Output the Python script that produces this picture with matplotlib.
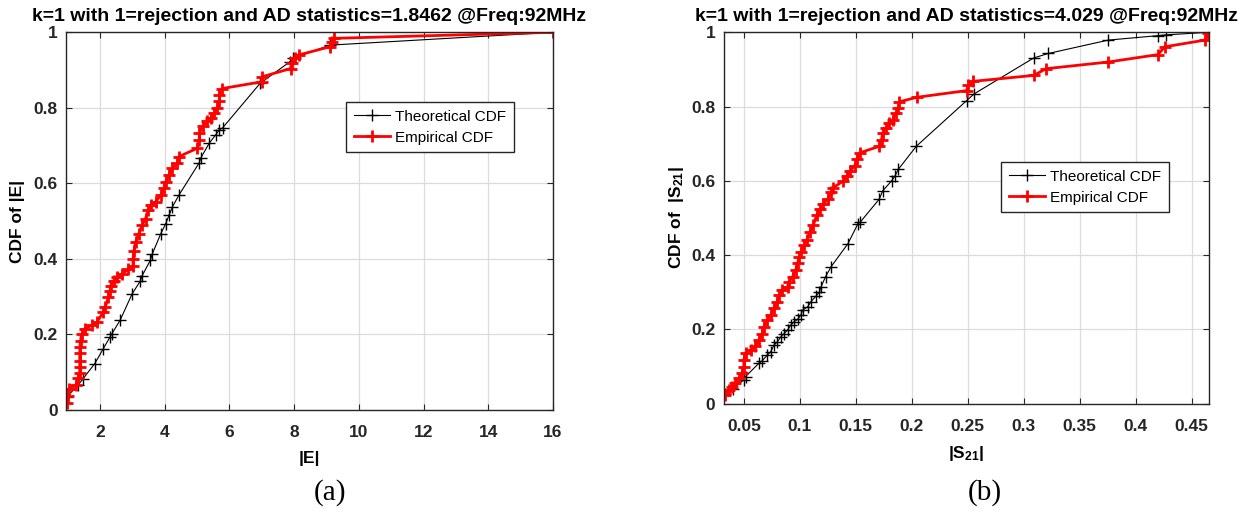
import matplotlib
matplotlib.use("Agg")
import matplotlib.pyplot as plt

plt.rcParams['font.family'] = ['Liberation Sans', 'DejaVu Sans']
plt.rcParams['mathtext.fontset'] = 'custom'
plt.rcParams['mathtext.rm'] = 'Liberation Sans:bold'
plt.rcParams['mathtext.bf'] = 'Liberation Sans:bold'
plt.rcParams['mathtext.default'] = 'rm'

# panel (a): |E|
e_emp_x = [0.97, 1.0, 1.03, 1.27, 1.32, 1.375, 1.375, 1.375, 1.375, 1.38, 1.4, 1.43, 1.53, 1.74, 1.9,
           2.1, 2.16, 2.26, 2.31, 2.33, 2.42, 2.52, 2.68, 2.88, 3.02, 3.02, 3.05, 3.1, 3.2, 3.3,
           3.41, 3.49, 3.57, 3.72, 3.88, 3.98, 4.03, 4.13, 4.24, 4.39, 4.44, 5.01, 5.07, 5.07, 5.17,
           5.32, 5.43, 5.53, 5.63, 5.69, 5.69, 5.77, 7.0, 7.0, 7.89, 7.94, 8.04, 8.14, 9.12, 9.17,
           9.22, 16.0]
e_emp_y = [0.018, 0.037, 0.055, 0.066, 0.084, 0.097, 0.114, 0.13, 0.15, 0.167, 0.184, 0.2, 0.215, 0.224, 0.232,
           0.259, 0.272, 0.298, 0.316, 0.329, 0.342, 0.351, 0.36, 0.373, 0.382, 0.399, 0.422, 0.444, 0.467, 0.489,
           0.507, 0.529, 0.542, 0.551, 0.569, 0.587, 0.604, 0.622, 0.64, 0.653, 0.671, 0.693, 0.716, 0.733, 0.751,
           0.764, 0.773, 0.787, 0.8, 0.818, 0.835, 0.851, 0.869, 0.882, 0.904, 0.918, 0.931, 0.94, 0.962, 0.975,
           0.984, 1.0]
e_th_x = [0.98, 1.32, 1.48, 1.84, 2.1, 2.31, 2.37, 2.63, 2.99, 3.25, 3.3, 3.56, 3.61, 3.88, 4.03,
          4.13, 4.24, 4.44, 5.07, 5.12, 5.38, 5.58, 5.69, 5.79, 6.95, 7.87, 7.98, 9.1, 16.0]
e_th_y = [0.035, 0.066, 0.083, 0.123, 0.162, 0.193, 0.202, 0.239, 0.307, 0.342, 0.355, 0.397, 0.412, 0.467, 0.493,
          0.515, 0.538, 0.569, 0.655, 0.668, 0.707, 0.729, 0.742, 0.747, 0.865, 0.922, 0.931, 0.966, 1.0]

# panel (b): |S21|
s_emp_x = [0.033, 0.0365, 0.0395, 0.0424, 0.0455, 0.0485, 0.05, 0.05, 0.0515, 0.056, 0.0604, 0.0635, 0.0665,
           0.068, 0.071, 0.074, 0.077, 0.08, 0.0815, 0.0845, 0.089, 0.0905, 0.0935, 0.0964, 0.098, 0.0995,
           0.101, 0.104, 0.106, 0.109, 0.112, 0.115, 0.118, 0.121, 0.125, 0.128, 0.13, 0.139, 0.142, 0.145,
           0.149, 0.151, 0.154, 0.171, 0.173, 0.174, 0.177, 0.18, 0.183, 0.186, 0.188, 0.189, 0.2045, 0.249,
           0.2505, 0.255, 0.309, 0.32, 0.3755, 0.42, 0.426, 0.462, 0.465]
s_emp_y = [0.023, 0.037, 0.046, 0.055, 0.068, 0.082, 0.1, 0.118, 0.136, 0.145, 0.155, 0.171, 0.189,
           0.207, 0.225, 0.239, 0.257, 0.275, 0.293, 0.306, 0.315, 0.328, 0.342, 0.36, 0.378, 0.396,
           0.409, 0.427, 0.44, 0.462, 0.48, 0.507, 0.524, 0.538, 0.551, 0.569, 0.582, 0.6, 0.613, 0.627,
           0.64, 0.658, 0.676, 0.693, 0.711, 0.729, 0.742, 0.756, 0.764, 0.782, 0.796, 0.813, 0.825, 0.843,
           0.857, 0.868, 0.884, 0.902, 0.92, 0.94, 0.961, 0.979, 0.997]
s_th_x = [0.033, 0.04, 0.05, 0.0515, 0.0635, 0.0665, 0.071, 0.074, 0.077, 0.08, 0.083, 0.086, 0.089, 0.092,
          0.095, 0.098, 0.101, 0.1025, 0.107, 0.11, 0.1145, 0.1175, 0.119, 0.123, 0.128, 0.143, 0.152, 0.154,
          0.171, 0.174, 0.182, 0.185, 0.188, 0.204, 0.249, 0.2556, 0.309, 0.322, 0.3755, 0.42, 0.427, 0.465]
s_th_y = [0.025, 0.04, 0.064, 0.073, 0.109, 0.116, 0.131, 0.14, 0.158, 0.167, 0.18, 0.189, 0.198, 0.212,
          0.221, 0.227, 0.239, 0.252, 0.261, 0.275, 0.29, 0.301, 0.315, 0.342, 0.369, 0.431, 0.485, 0.489,
          0.551, 0.573, 0.6, 0.613, 0.631, 0.693, 0.816, 0.834, 0.931, 0.943, 0.979, 0.991, 0.993, 1.0]

y_ticks = [0, 0.2, 0.4, 0.6, 0.8, 1]
y_labels = ['0', '0.2', '0.4', '0.6', '0.8', '1']
e_ticks = [2, 4, 6, 8, 10, 12, 14, 16]
s_ticks = [0.05, 0.1, 0.15, 0.2, 0.25, 0.3, 0.35, 0.4, 0.45]
s_labels = ['0.05', '0.1', '0.15', '0.2', '0.25', '0.3', '0.35', '0.4', '0.45']

titles = ['k=1 with 1=rejection and AD statistics=1.8462 @Freq:92MHz',
          'k=1 with 1=rejection and AD statistics=4.029 @Freq:92MHz']

W, H = 1254, 519
fig = plt.figure(figsize=(W / 100, H / 100), dpi=100)

axA = fig.add_axes([66 / W, 1 - 410 / H, 487 / W, 377.7 / H])
axB = fig.add_axes([723.7 / W, 1 - 403.7 / H, 485.6 / W, 371.4 / H])

def style(ax):
    ax.grid(True, color='#dcdcdc', linewidth=0.9)
    ax.set_axisbelow(True)
    for s in ax.spines.values():
        s.set_color('#262626')
        s.set_linewidth(1.0)
    ax.tick_params(direction='in', length=4, width=0.8, top=True, right=True,
                   labelsize=12.5, colors='#262626')
    ax.tick_params(axis='x', pad=11)
    ax.tick_params(axis='y', pad=6)
    for t in ax.get_xticklabels() + ax.get_yticklabels():
        t.set_fontweight('bold')

for ax, tx, ty, ex, ey in [(axA, e_th_x, e_th_y, e_emp_x, e_emp_y),
                           (axB, s_th_x, s_th_y, s_emp_x, s_emp_y)]:
    ax.plot(tx, ty, color='black', linewidth=0.8, marker='+', markersize=8,
            markeredgewidth=1.0, label='Theoretical CDF')
    ax.plot(ex, ey, color='red', linewidth=2.0, marker='+', markersize=8,
            markeredgewidth=2.0, label='Empirical CDF')
    ax.set_ylim(0, 1)
    ax.set_yticks(y_ticks)
    ax.set_yticklabels(y_labels)

axA.set_xlim(0.95, 16)
axA.set_xticks(e_ticks)
axA.set_xticklabels([str(v) for v in e_ticks])
axB.set_xlim(0.032, 0.4658)
axB.set_xticks(s_ticks)
axB.set_xticklabels(s_labels)

for ax in (axA, axB):
    style(ax)

axA.set_title(titles[0], fontsize=14, fontweight='bold', pad=8)
axB.set_title(titles[1], fontsize=14, fontweight='bold', pad=8)
axA.set_xlabel('|E|', fontsize=12.5, fontweight='bold', labelpad=8)
axA.set_ylabel('CDF of |E|', fontsize=12.5, fontweight='bold', labelpad=6)
axB.set_xlabel(r'|S$_{21}$|', fontsize=12.5, fontweight='bold', labelpad=7)
axB.set_ylabel(r'CDF of  |S$_{21}$|', fontsize=12.5, fontweight='bold', labelpad=4)

legA = axA.legend(loc='upper left', bbox_to_anchor=(346 / W, 1 - 102 / H), bbox_transform=fig.transFigure,
                  fancybox=False, framealpha=1, edgecolor='#262626', fontsize=11, handlelength=2.4,
                  borderpad=0.5, labelspacing=0.45, handletextpad=0.3, borderaxespad=0)
legB = axB.legend(loc='upper left', bbox_to_anchor=(1001 / W, 1 - 162 / H), bbox_transform=fig.transFigure,
                  fancybox=False, framealpha=1, edgecolor='#262626', fontsize=11, handlelength=2.4,
                  borderpad=0.5, labelspacing=0.45, handletextpad=0.3, borderaxespad=0)

fig.text(330 / W, 1 - 493 / H, '(a)', fontsize=21, family='Liberation Serif', ha='center', va='center')
fig.text(985 / W, 1 - 493 / H, '(b)', fontsize=21, family='Liberation Serif', ha='center', va='center')

fig.savefig('out.png', dpi=100)
